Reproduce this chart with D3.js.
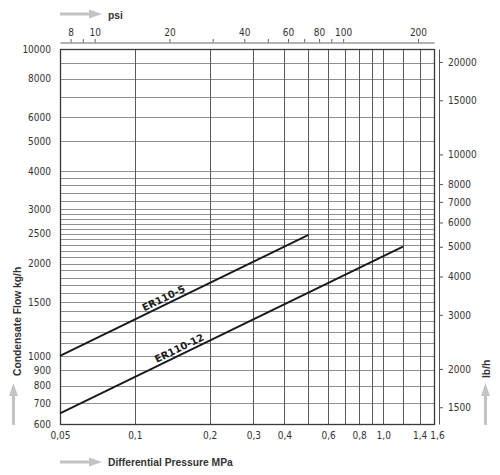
<!DOCTYPE html>
<html>
<head>
<meta charset="utf-8">
<script src="https://cdn.jsdelivr.net/npm/d3@7"></script>
<style>
  body { margin: 0; background: #fff; }
  .tick text { font-family: "Liberation Sans Narrow", "DejaVu Sans Condensed", sans-serif; font-size: 10px; fill: #333; }
  .title { font-family: "Liberation Sans", Arial, sans-serif; font-weight: bold; font-size: 10.3px; fill: #333; }
</style>
</head>
<body>
<div id="chart"></div>
<script>
// pressure axis (MPa), bottom
const pressureTicks = [0.05, 0.1, 0.2, 0.3, 0.4, 0.6, 0.8, 1.0, 1.4, 1.6];
const pressureLabels = ["0,05", "0,1", "0,2", "0,3", "0,4", "0,6", "0,8", "1,0", "1,4", "1,6"];
const pressureGrid = [0.1, 0.2, 0.3, 0.4, 0.5, 0.6, 0.7, 0.8, 0.9, 1.0, 1.2, 1.4];

// psi axis, top
const psiTicks = [8, 10, 20, 40, 60, 80, 100, 200];
const psiMinor = [9, 30, 50, 70, 90];

// flow axis (kg/h), left
const flowTicks = [600, 700, 800, 900, 1000, 1500, 2000, 2500, 3000, 4000, 5000, 6000, 8000, 10000];
const flowGrid = [700, 800, 900, 1000, 1100, 1200, 1300, 1400, 1500, 1600, 1700, 1800, 1900,
  2000, 2100, 2200, 2300, 2400, 2500, 2600, 2700, 2800, 2900, 3000, 3200, 3400, 3600, 3800, 4000,
  5000, 6000, 7000, 8000, 9000];

// flow axis (lb/h), right
const lbTicks = [1500, 2000, 3000, 4000, 5000, 6000, 7000, 8000, 10000, 15000, 20000];

// capacity curves
const seriesNames = ["ER110-5", "ER110-12"];
const er110_5 = [{p: 0.05, q: 1000}, {p: 0.5, q: 2480}];
const er110_12 = [{p: 0.05, q: 650}, {p: 1.2, q: 2270}];
const labelAt = [0.134, 0.155];   // pressure where each label sits

const MPA_PER_PSI = 0.00689476;
const KG_PER_LB = 0.453592;

const width = 500, height = 475;
const margin = {left: 60, right: 434, top: 49, bottom: 424};

const svg = d3.select("#chart").append("svg")
    .attr("width", width)
    .attr("height", height);

const x = d3.scaleLog().domain([0.05, 1.6]).range([margin.left, margin.right]);
const y = d3.scaleLog().domain([600, 10000]).range([margin.bottom, margin.top]);
const xPsi = d3.scaleLog().domain([0.05 / MPA_PER_PSI, 1.6 / MPA_PER_PSI]).range([margin.left, margin.right]);
const yLb = d3.scaleLog().domain([600 / KG_PER_LB, 10000 / KG_PER_LB]).range([margin.bottom, margin.top]);

// grid
svg.append("g").selectAll("line")
    .data(flowGrid)
    .enter().append("line")
    .attr("x1", margin.left).attr("x2", margin.right)
    .attr("y1", d => Math.round(y(d)) + 0.5)
    .attr("y2", d => Math.round(y(d)) + 0.5)
    .attr("stroke", "#909090")
    .attr("stroke-width", 1);

svg.append("g").selectAll("line")
    .data(pressureGrid)
    .enter().append("line")
    .attr("x1", d => Math.round(x(d)) + 0.5)
    .attr("x2", d => Math.round(x(d)) + 0.5)
    .attr("y1", margin.top).attr("y2", margin.bottom)
    .attr("stroke", "#5a5a5a")
    .attr("stroke-width", 1);

// frame
svg.append("rect")
    .attr("x", margin.left + 0.5).attr("y", margin.top + 0.5)
    .attr("width", margin.right - margin.left).attr("height", margin.bottom - margin.top)
    .attr("fill", "none")
    .attr("stroke", "#3a3a3a")
    .attr("stroke-width", 1.3);

// bottom axis
const gx = svg.append("g")
    .attr("transform", `translate(0,${margin.bottom})`)
    .call(d3.axisBottom(x).tickValues(pressureTicks)
        .tickFormat((d, i) => pressureLabels[i])
        .tickSize(0).tickPadding(8));
gx.select(".domain").remove();
gx.selectAll(".tick text").filter(d => d === 1.6).attr("dx", 3);

// left axis
const gy = svg.append("g")
    .attr("transform", `translate(${margin.left},0)`)
    .call(d3.axisLeft(y).tickValues(flowTicks)
        .tickFormat(d3.format("d"))
        .tickSize(0).tickPadding(9));
gy.select(".domain").remove();

// top psi axis
const gt = svg.append("g")
    .attr("transform", `translate(0,${margin.top - 6.5})`)
    .call(d3.axisTop(xPsi).tickValues(psiTicks)
        .tickFormat(d3.format("d"))
        .tickSize(3.5).tickSizeOuter(0).tickPadding(3));
gt.selectAll(".domain, .tick line").attr("stroke", "#666");
gt.append("g").selectAll("line")
    .data(psiMinor)
    .enter().append("line")
    .attr("x1", d => xPsi(d)).attr("x2", d => xPsi(d))
    .attr("y1", 0).attr("y2", -3.5)
    .attr("stroke", "#666");

// right lb/h axis
const gr = svg.append("g")
    .attr("transform", `translate(${margin.right + 5},0)`)
    .call(d3.axisRight(yLb).tickValues(lbTicks)
        .tickFormat(d3.format("d"))
        .tickSize(4).tickSizeOuter(0).tickPadding(5));
gr.selectAll(".domain, .tick line").attr("stroke", "#555");

// curves
const line = d3.line().x(d => x(d.p)).y(d => y(d.q));
[er110_5, er110_12].forEach((data, i) => {
    svg.append("path")
        .datum(data)
        .attr("d", line)
        .attr("fill", "none")
        .attr("stroke", "#1a1a1a")
        .attr("stroke-width", 1.9);

    const a = data[0], b = data[data.length - 1];
    const angle = Math.atan2(y(b.q) - y(a.q), x(b.p) - x(a.p)) * 180 / Math.PI;
    const t = Math.log(labelAt[i] / a.p) / Math.log(b.p / a.p);
    const qAt = Math.exp(Math.log(a.q) + t * (Math.log(b.q) - Math.log(a.q)));
    svg.append("text")
        .attr("transform", `translate(${x(labelAt[i])},${y(qAt)}) rotate(${angle})`)
        .attr("dy", -3)
        .attr("text-anchor", "middle")
        .attr("font-family", "DejaVu Sans, Verdana, sans-serif")
        .attr("font-weight", "bold")
        .attr("font-size", "10px")
        .attr("fill", "#1a1a1a")
        .text(seriesNames[i]);
});

// axis titles with gray arrows
const arrowColor = "#c4c4c4";
function hArrow(x0, yc) {
    svg.append("path")
        .attr("d", `M${x0},${yc - 1.5}H${x0 + 29}V${yc - 4.5}L${x0 + 42},${yc}L${x0 + 29},${yc + 4.5}V${yc + 1.5}H${x0}Z`)
        .attr("fill", arrowColor);
}
function vArrow(xc, y0) {
    svg.append("path")
        .attr("d", `M${xc - 1.5},${y0}V${y0 - 29}H${xc - 4.5}L${xc},${y0 - 42}L${xc + 4.5},${y0 - 29}H${xc + 1.5}V${y0}Z`)
        .attr("fill", arrowColor);
}

hArrow(60, 14);
svg.append("text").attr("class", "title")
    .attr("x", 108).attr("y", 18.5)
    .text("psi");

hArrow(60, 462);
svg.append("text").attr("class", "title")
    .attr("x", 108).attr("y", 466)
    .text("Differential Pressure MPa");

vArrow(13.5, 425);
svg.append("text").attr("class", "title")
    .attr("transform", "translate(21,376) rotate(-90)")
    .text("Condensate Flow kg/h");

vArrow(485.5, 425);
svg.append("text").attr("class", "title")
    .attr("transform", "translate(489.5,378) rotate(-90)")
    .text("lb/h");
</script>
</body>
</html>
